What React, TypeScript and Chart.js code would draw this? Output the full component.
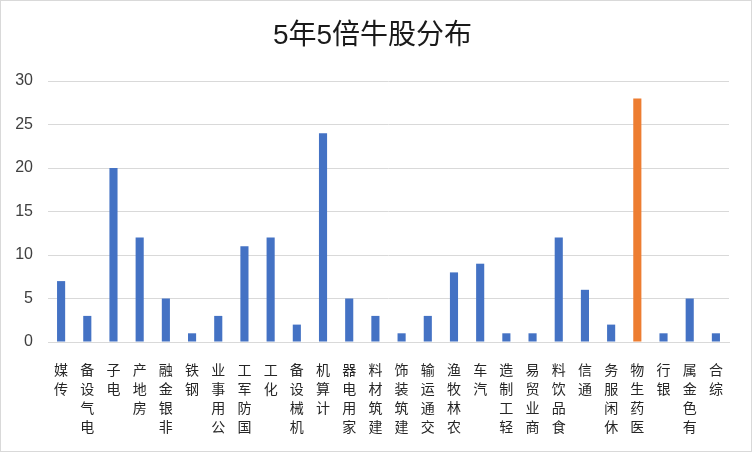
import { useEffect, useRef } from 'react';
import Chart from 'chart.js/auto';

const categories = [
  '传媒', '电气设备', '电子', '房地产', '非银金融', '钢铁', '公用事业', '国防军工', '化工',
  '机械设备', '计算机', '家用电器', '建筑材料', '建筑装饰', '交通运输', '农林牧渔', '汽车',
  '轻工制造', '商业贸易', '食品饮料', '通信', '休闲服务', '医药生物', '银行', '有色金属', '综合',
];
const counts = [7, 3, 20, 12, 5, 1, 3, 11, 12, 2, 24, 5, 3, 1, 3, 8, 9, 1, 1, 12, 6, 2, 28, 1, 5, 1];
const highlight = '医药生物';
const yTicks = [0, 5, 10, 15, 20, 25, 30];

// vertical labels: upright characters, read bottom to top
const stacked = (s: string) => s.split('').reverse();

// title is centred on the whole chart box, not on the padded area
const centreTitle = {
  id: 'centreTitle',
  afterLayout(chart: any) {
    const t = chart.titleBlock;
    if (t) {
      t.left = 0;
      t.right = chart.width - 7;
    }
  },
};

export default function App() {
  const canvasRef = useRef<HTMLCanvasElement | null>(null);
  const chartRef = useRef<Chart | null>(null);

  useEffect(() => {
    if (!canvasRef.current) return;
    const ctx = canvasRef.current.getContext('2d');
    if (!ctx) return;

    chartRef.current = new Chart(ctx, {
      type: 'bar',
      data: {
        labels: categories.map(stacked),
        datasets: [
          {
            data: counts,
            backgroundColor: categories.map((c) => (c === highlight ? '#ED7D31' : '#4472C4')),
            barPercentage: 0.31,
            categoryPercentage: 1,
          },
        ],
      },
      options: {
        animation: false,
        responsive: true,
        maintainAspectRatio: false,
        layout: { padding: { left: 0, right: 22, top: 0, bottom: 0 } },
        plugins: {
          legend: { display: false },
          tooltip: { enabled: false },
          title: {
            display: true,
            text: '5年5倍牛股分布',
            color: '#1a1a1a',
            font: { family: '"Liberation Sans", "Noto Sans CJK SC"', size: 28, weight: 'normal' },
            padding: { top: 18.2, bottom: 28.2 },
          },
        },
        scales: {
          x: {
            grid: { display: false, drawTicks: false },
            border: { display: true, color: '#D9D9D9' },
            ticks: {
              maxRotation: 0,
              minRotation: 0,
              autoSkip: false,
              padding: 18,
              color: '#262626',
              font: { family: '"Noto Sans CJK SC"', size: 14, lineHeight: 1.36 },
            },
            afterFit: (scale) => {
              scale.height = 109;
            },
          },
          y: {
            min: 0,
            max: 30,
            afterBuildTicks: (scale) => {
              scale.ticks = yTicks.map((v) => ({ value: v }));
            },
            grid: { color: '#D9D9D9', drawTicks: false },
            border: { display: false },
            ticks: {
              padding: 15,
              color: '#404040',
              font: { family: '"Liberation Sans"', size: 16 },
            },
            afterFit: (scale) => {
              scale.width = 47;
            },
          },
        },
      },
      plugins: [centreTitle],
    });

    return () => {
      chartRef.current?.destroy();
    };
  }, []);

  return (
    <div
      style={{
        position: 'absolute',
        left: 0,
        top: 0,
        width: 752,
        height: 452,
        boxSizing: 'border-box',
        border: '1px solid #D9D9D9',
        background: '#fff',
      }}
    >
      <canvas ref={canvasRef}></canvas>
    </div>
  );
}
